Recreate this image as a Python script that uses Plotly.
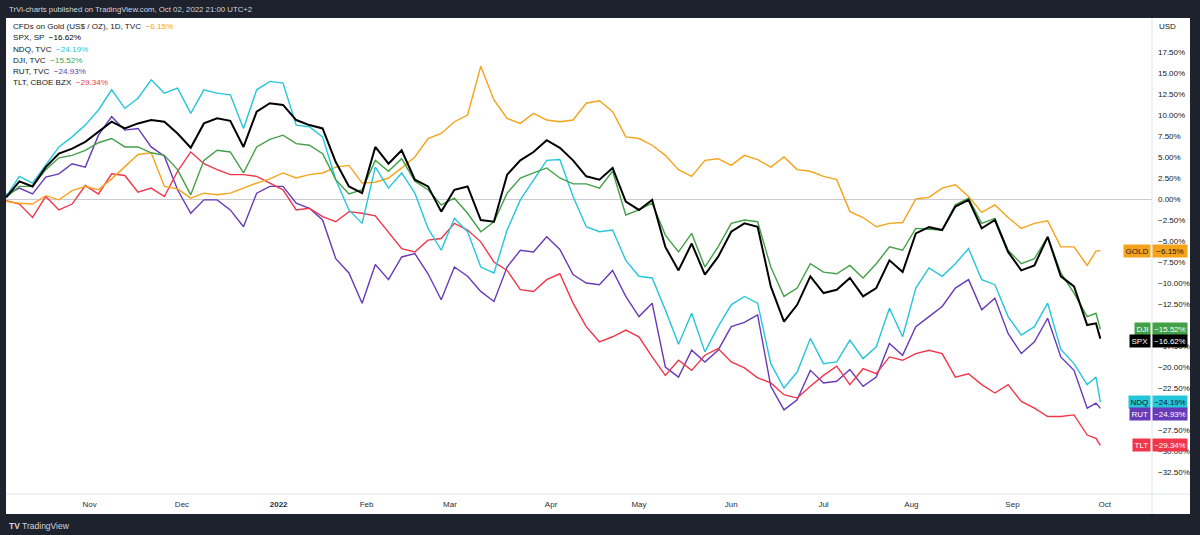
import plotly.graph_objects as go
import pandas as pd

# ---------------- data ----------------
HOLIDAYS = ["2021-11-25", "2021-12-24", "2022-01-17", "2022-02-21", "2022-04-15",
            "2022-05-30", "2022-06-20", "2022-07-04", "2022-09-05"]
TRADING_DAYS = pd.bdate_range("2021-10-05", "2022-09-30", freq="C", holidays=HOLIDAYS)
SAMPLE_IDX = list(range(0, 247, 3)) + [248, 249]
DATES = [TRADING_DAYS[k] for k in SAMPLE_IDX]

GOLD = [-0.3, -0.5, -0.6, 0.4, -0.1, 1.0, 1.5, 1.1, 2.4, 3.8, 5.3, 5.5, 1.5, 1.2, 0.1,
        0.7, 0.5, 0.7, 1.3, 1.9, 2.4, 3.1, 2.5, 2.9, 3.1, 3.8, 4.0, 1.9, 2.0,
        2.5, 3.7, 5.0, 7.2, 7.8, 9.2, 10.0, 15.8, 11.8, 9.6, 9.0, 10.2, 9.4, 9.2,
        9.4, 11.4, 11.7, 10.4, 7.4, 7.2, 6.4, 5.2, 3.5, 2.7, 4.6, 4.8, 4.0, 5.2,
        4.7, 3.8, 5.0, 3.5, 3.3, 2.7, 2.3, -1.5, -2.2, -3.3, -2.9, -2.8, 0.0, 0.2,
        1.3, 1.7, 0.3, -1.6, -0.7, -2.2, -3.5, -2.9, -2.6, -5.7, -5.7, -7.9, -6.2,
        -6.15]
SPX = [0.2, 2.1, 1.5, 3.8, 5.4, 6.0, 6.8, 8.0, 9.2, 8.4, 9.0, 9.4, 9.2, 7.8, 6.1,
       9.0, 9.6, 9.3, 6.2, 10.4, 11.4, 11.2, 9.4, 8.8, 8.4, 4.4, 1.5, 0.7, 6.2,
       4.2, 5.8, 2.3, 1.5, -1.5, 1.1, 1.5, -2.5, -2.7, 2.9, 4.6, 5.6, 7.0, 6.1,
       4.6, 2.7, 2.3, 3.7, -0.3, -1.3, -0.1, -5.7, -8.5, -5.3, -9.0, -6.9, -3.9, -2.9,
       -3.3, -10.4, -14.6, -12.6, -9.2, -11.2, -10.8, -9.4, -11.6, -10.6, -7.3, -8.7, -4.1, -3.35,
       -3.7, -0.9, -0.1, -3.5, -2.5, -6.3, -8.5, -7.9, -4.5, -9.2, -10.4, -15.0, -14.8,
       -16.62]
NDQ = [0.3, 2.7, 1.9, 4.0, 6.2, 7.4, 8.8, 10.6, 13.0, 10.8, 12.0, 14.2, 12.6, 13.2, 10.2,
       13.0, 12.6, 12.4, 8.4, 13.0, 14.0, 13.8, 8.8, 8.6, 7.4, 2.3, -1.3, -2.9, 3.8,
       1.3, 3.1, 0.7, -3.5, -6.1, -2.3, -3.9, -8.1, -8.8, -3.7, -0.1, 2.3, 4.6, 4.7,
       0.3, -3.3, -3.9, -3.7, -7.3, -9.2, -9.4, -13.2, -17.3, -13.6, -18.2, -15.2, -12.6, -11.6,
       -12.4, -19.6, -22.5, -20.6, -16.6, -19.6, -19.4, -16.8, -19.0, -17.6, -13.0, -16.4, -10.6, -8.2,
       -9.2, -7.7, -5.9, -9.6, -10.2, -14.0, -16.2, -15.2, -12.4, -17.9, -19.6, -22.1, -21.2,
       -24.19]
DJI = [0.2, 1.5, 1.5, 3.5, 4.9, 5.2, 5.8, 6.7, 7.2, 6.2, 6.2, 5.5, 5.2, 3.5, 0.5,
       4.6, 5.8, 5.6, 3.1, 6.2, 7.1, 7.6, 6.6, 6.4, 5.4, 2.3, 0.6, 1.1, 4.6,
       3.3, 4.8, 2.1, 1.1, -0.7, 0.1, -1.7, -3.9, -2.7, 0.7, 2.5, 3.1, 3.7, 2.5,
       1.8, 1.8, 1.3, 3.3, -1.9, -1.3, -0.5, -4.3, -6.3, -4.1, -8.1, -5.7, -2.9, -2.5,
       -2.7, -8.1, -11.6, -10.6, -7.7, -8.7, -8.9, -7.9, -9.4, -7.7, -5.7, -6.1, -3.5, -3.6,
       -3.7, -0.7, 0.1, -2.9, -2.3, -6.1, -7.7, -7.1, -4.5, -8.8, -11.2, -14.0, -13.6,
       -15.52]
RUT = [0.5, 1.3, 0.6, 2.6, 3.0, 4.2, 3.8, 7.6, 9.8, 8.2, 8.4, 6.2, 5.1, 1.1, -1.7,
       -0.1, -0.1, -1.3, -3.3, 0.7, 1.5, 1.5, -0.5, -1.1, -2.5, -7.1, -8.8, -12.4, -7.8,
       -9.6, -6.9, -6.5, -8.9, -12.0, -8.1, -9.2, -11.0, -12.2, -8.1, -6.1, -6.3, -4.5, -6.0,
       -9.0, -10.0, -10.2, -8.5, -11.6, -14.0, -12.4, -20.0, -21.2, -18.0, -19.4, -18.0, -15.2, -14.7,
       -13.8, -22.3, -25.1, -23.9, -20.4, -21.9, -21.7, -20.3, -22.3, -21.2, -17.2, -18.6, -15.2, -14.0,
       -12.8, -10.6, -9.6, -13.2, -11.8, -16.0, -18.4, -17.0, -14.2, -18.8, -20.4, -24.9, -24.3,
       -24.93]
TLT = [-0.2, -0.6, -2.2, 0.3, -1.3, -0.6, 1.6, 0.6, 3.0, 2.8, 0.8, 1.3, 0.3, 3.3, 5.6,
       4.2, 3.5, 2.9, 2.9, 2.7, 1.9, 1.1, -1.3, -1.1, -2.1, -2.7, -1.5, -1.7, -2.0,
       -3.9, -5.9, -6.3, -4.9, -4.7, -2.9, -3.7, -5.1, -7.5, -8.5, -10.8, -11.0, -9.6, -8.9,
       -12.4, -15.2, -17.0, -16.4, -15.6, -16.4, -18.8, -21.0, -19.2, -20.4, -18.6, -17.8, -19.4, -20.1,
       -21.3, -21.9, -23.3, -23.7, -22.3, -21.0, -19.9, -22.1, -20.2, -20.8, -18.8, -19.2, -18.4, -18.0,
       -18.4, -21.2, -20.8, -22.1, -23.1, -22.1, -24.1, -24.9, -25.9, -25.9, -25.7, -28.1, -28.5,
       -29.34]

MONTH_TICKS = ["2021-11-01", "2021-12-01", "2022-01-03", "2022-02-01", "2022-03-01", "2022-04-01",
               "2022-05-02", "2022-06-01", "2022-07-01", "2022-08-01", "2022-09-01", "2022-10-03"]
MONTH_LABELS = ["Nov", "Dec", "<b>2022</b>", "Feb", "Mar", "Apr", "May", "Jun", "Jul", "Aug", "Sep", "Oct"]
# scale labels (the ones fully hidden behind price tags in the reference are left out)
Y_TICKS = [17.5, 15.0, 12.5, 10.0, 7.5, 5.0, 2.5, 0.0, -2.5, -5.0, -7.5, -10.0, -12.5,
           -17.5, -20.0, -22.5, -27.5, -30.0, -32.5]

LEGEND_NAMES = ["CFDs on Gold (US$ / OZ), 1D, TVC", "SPX, SP", "NDQ, TVC", "DJI, TVC",
                "RUT, TVC", "TLT, CBOE BZX"]
TAG_NAMES = ["GOLD", "SPX", "NDQ", "DJI", "RUT", "TLT"]
SERIES = [GOLD, SPX, NDQ, DJI, RUT, TLT]
COLORS = ["#f5a31a", "#000000", "#26c6da", "#43a047", "#673ab7", "#f0364a"]
TAG_TEXT = ["#131722", "#ffffff", "#131722", "#ffffff", "#ffffff", "#ffffff"]
WIDTHS = [1.4, 2.0, 1.4, 1.4, 1.4, 1.4]

# ---------------- layout geometry (pixels) ----------------
W, H = 1200, 535
PL, PR, PT, PB = 6, 1152, 18, 494
PW, PH = PR - PL, PB - PT
FONT = "Liberation Sans, Arial, sans-serif"
Y_RANGE = [-35.12, 21.55]


def px_x(px):
    return (px - PL) / PW


def px_y(py):
    return (PB - py) / PH


def fmt(v):
    return f"{v:.2f}%".replace("-", "\u2212")


fig = go.Figure()
order = [4, 5, 0, 2, 3, 1]  # SPX (black) drawn last, on top
for k in order:
    fig.add_trace(go.Scatter(x=DATES, y=SERIES[k], mode="lines", name=TAG_NAMES[k],
                             line=dict(color=COLORS[k], width=WIDTHS[k]),
                             showlegend=False, hoverinfo="skip"))

shapes = [
    dict(type="rect", xref="paper", yref="paper", x0=px_x(6), x1=px_x(1190),
         y0=px_y(514), y1=px_y(18), fillcolor="#ffffff", line=dict(width=0), layer="below"),
    dict(type="line", xref="paper", yref="paper", x0=px_x(1152), x1=px_x(1152),
         y0=px_y(514), y1=px_y(18), line=dict(color="#e0e3eb", width=1)),
    dict(type="line", xref="paper", yref="paper", x0=px_x(6), x1=px_x(1190),
         y0=px_y(494), y1=px_y(494), line=dict(color="#e0e3eb", width=1)),
]

annotations = [
    dict(text="TrVi-charts published on TradingView.com, Oct 02, 2022 21:00 UTC+2",
         xref="paper", yref="paper", x=px_x(7), y=px_y(9), xanchor="left", yanchor="middle",
         showarrow=False, font=dict(family=FONT, size=7.8, color="#d1d4dc")),
    dict(text="<b>TV</b> TradingView", xref="paper", yref="paper", x=px_x(7), y=px_y(526),
         xanchor="left", yanchor="middle", showarrow=False,
         font=dict(family=FONT, size=8.5, color="#d1d4dc")),
    dict(text="USD", xref="paper", yref="paper", x=px_x(1157), y=px_y(26),
         xanchor="left", yanchor="middle", showarrow=False,
         font=dict(family=FONT, size=8, color="#131722")),
]

for k, name in enumerate(LEGEND_NAMES):
    last = SERIES[k][-1]
    annotations.append(dict(
        text=f"{name}  <span style='color:{COLORS[k]}'>{fmt(last)}</span>",
        xref="paper", yref="paper", x=px_x(11), y=px_y(26.5 + 11.3 * k),
        xanchor="left", yanchor="middle", showarrow=False,
        font=dict(family=FONT, size=8.1, color="#131722")))

MIN_SEP = 11.5 * (Y_RANGE[1] - Y_RANGE[0]) / PH
idx_sorted = sorted(range(len(SERIES)), key=lambda k: -SERIES[k][-1])
prev = None
for k in idx_sorted:
    pos = SERIES[k][-1]
    if prev is not None and prev - pos < MIN_SEP:
        pos = prev - MIN_SEP
    prev = pos
    annotations.append(dict(text=TAG_NAMES[k], xref="paper", yref="y", x=px_x(1151), y=pos,
                            xanchor="right", yanchor="middle", showarrow=False,
                            bgcolor=COLORS[k], borderpad=1.5,
                            font=dict(family=FONT, size=8, color=TAG_TEXT[k])))
    annotations.append(dict(text=fmt(SERIES[k][-1]), xref="paper", yref="y", x=px_x(1152), y=pos,
                            xanchor="left", yanchor="middle", showarrow=False,
                            bgcolor=COLORS[k], borderpad=1.5, width=31,
                            font=dict(family=FONT, size=8, color=TAG_TEXT[k])))

fig.update_layout(
    width=W, height=H,
    margin=dict(l=PL, r=W - PR, t=PT, b=H - PB),
    paper_bgcolor="#1e222d",
    plot_bgcolor="#ffffff",
    shapes=shapes,
    annotations=annotations,
    showlegend=False,
    xaxis=dict(
        type="date",
        range=["2021-10-04 23:00", "2022-10-17 18:00"],
        rangebreaks=[dict(bounds=["sat", "mon"]), dict(values=HOLIDAYS)],
        tickvals=MONTH_TICKS, ticktext=MONTH_LABELS,
        showgrid=False, zeroline=False, showline=False, ticks="",
        ticklabelstandoff=4,
        tickfont=dict(family=FONT, size=8, color="#2a2e39"),
    ),
    yaxis=dict(
        side="right",
        range=Y_RANGE,
        tickvals=Y_TICKS, ticktext=[fmt(v) for v in Y_TICKS],
        showgrid=False, showline=False, ticks="",
        zeroline=True, zerolinecolor="#c9cbd1", zerolinewidth=1,
        ticklabelstandoff=5,
        tickfont=dict(family=FONT, size=8, color="#131722"),
    ),
)

fig.write_html("out.html",
               config={"displayModeBar": False},
               post_script="document.body.style.margin='0';document.body.style.padding='0';"
                           "document.body.style.overflow='hidden';")
